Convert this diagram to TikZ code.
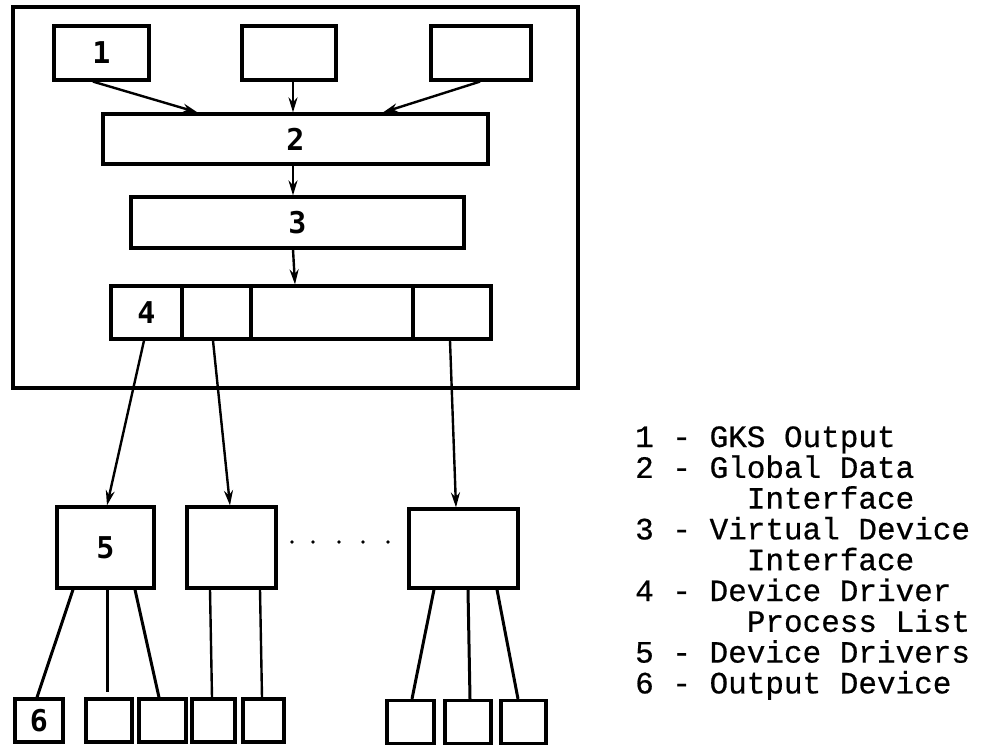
\documentclass[tikz,border=0pt]{standalone}
\usepackage{fontspec}
\newfontfamily\keyfont{Liberation Mono}[FakeBold=0.6]
\newfontfamily\numfont{DejaVu Sans Mono}
\usetikzlibrary{arrows.meta}

\begin{document}
\begin{tikzpicture}[x=1pt,y=-1pt,
  box/.style={draw, rectangle, line width=3.2pt, inner sep=0pt},
  link/.style={line width=2.4pt},
  feed/.style={line width=3pt},
  flow/.style={link, -{Stealth[length=15pt,width=9pt]}},
  num/.style={font=\numfont\bfseries\fontsize{30}{30}\selectfont},
  legend/.style={anchor=base west, inner sep=0pt, font=\keyfont\fontsize{31}{31}\selectfont}]

\useasboundingbox (0,0) rectangle (986,747);

% enclosing frame
\node[box, line width=3.4pt, minimum width=565pt, minimum height=381pt] (frame) at (295.5,197.5) {};

% GKS output boxes
\node[box, minimum width=95pt,  minimum height=54pt] (b1) at (101.5,53) {};
\node[num] at (b1.center) {1};
\node[box, minimum width=94pt,  minimum height=54pt] (bm) at (289,53) {};
\node[box, minimum width=100pt, minimum height=54pt] (br) at (481,53) {};

% global data interface
\node[box, minimum width=385pt, minimum height=50pt] (b2) at (295.5,139) {};
\node[num] at (b2.center) {2};

% virtual device interface
\node[box, minimum width=333pt, minimum height=51pt] (b3) at (297.5,222.5) {};
\node[num] at (b3.center) {3};

% device driver process list
\node[box, minimum width=71pt,  minimum height=53pt] (p4a) at (146.5,312.5) {};
\node[num] at (p4a.center) {4};
\node[box, minimum width=69pt,  minimum height=53pt] (p4b) at (216.5,312.5) {};
\node[box, minimum width=162pt, minimum height=53pt] (p4c) at (332,312.5) {};
\node[box, minimum width=78pt,  minimum height=53pt] (p4d) at (452,312.5) {};

% device drivers
\node[box, minimum width=97pt,  minimum height=81pt] (d5) at (105.5,547.5) {};
\node[num] at (d5.center) {5};
\node[box, minimum width=89pt,  minimum height=81pt] (dB) at (231.5,547.5) {};
\node[box, minimum width=109pt, minimum height=79pt] (dC) at (463.5,548.5) {};

% output devices
\node[box, minimum width=48pt, minimum height=43pt] (o6) at (39,720.5) {};
\node[num] at (o6.center) {6};
\node[box, minimum width=46pt, minimum height=43pt] (ob) at (109,720.5) {};
\node[box, minimum width=47pt, minimum height=43pt] (oc) at (162.5,720.5) {};
\node[box, minimum width=43pt, minimum height=43pt] (od) at (213.5,720.5) {};
\node[box, minimum width=41pt, minimum height=43pt] (oe) at (263.5,720.5) {};
\node[box, minimum width=47pt, minimum height=43pt] (of) at (410.5,722) {};
\node[box, minimum width=46pt, minimum height=43pt] (og) at (468,722) {};
\node[box, minimum width=45pt, minimum height=43pt] (oh) at (523.5,722) {};

% arrows inside the frame
\draw[flow] ([xshift=-8.5pt]b1.south) -- ([xshift=-98pt]b2.north);
\draw[flow] ([xshift=4pt]bm.south) -- ([xshift=-2.5pt]b2.north);
\draw[flow] ([xshift=-1pt]br.south) -- ([xshift=87.5pt]b2.north);
\draw[flow] ([xshift=-2.5pt]b2.south) -- ([xshift=-4.5pt]b3.north);
\draw[flow] ([xshift=-4.5pt]b3.south) -- ([xshift=-37pt]p4c.north);

% process list to drivers
\draw[flow] ([xshift=-2.5pt]p4a.south) -- ([xshift=1.5pt]d5.north);
\draw[flow] ([xshift=-3.5pt]p4b.south) -- ([xshift=-1.5pt]dB.north);
\draw[flow] ([xshift=-2pt]p4d.south) -- ([xshift=-7.5pt]dC.north);

% drivers to output devices
\coordinate (obend) at (107,692);
\draw[feed] ([xshift=-32.5pt]d5.south) -- ([xshift=-2pt]o6.north);
\draw[feed] ([xshift=1.5pt]d5.south) -- (obend);
\draw[feed] ([xshift=29.5pt]d5.south) -- ([xshift=-3.5pt]oc.north);
\draw[link] ([xshift=-21.5pt]dB.south) -- ([xshift=-1.5pt]od.north);
\draw[link] ([xshift=28.5pt]dB.south) -- ([xshift=-1.5pt]oe.north);
\draw[feed] ([xshift=-29.5pt]dC.south) -- ([xshift=1.5pt]of.north);
\draw[feed] ([xshift=4.5pt]dC.south) -- ([xshift=2pt]og.north);
\draw[feed] ([xshift=33.5pt]dC.south) -- ([xshift=-5.5pt]oh.north);

% dotted gap between drivers
\foreach \dx in {292,313,339,363,388}
  \fill (\dx,542) circle (1.8pt);

% key
\node[legend] (k1) at (635,447)   {1 - GKS Output};
\node[legend] (k2) at (635,477.8) {2 - Global Data};
\node[legend] (k3) at (635,508.6) {\ \ \ \ \ \ Interface};
\node[legend] (k4) at (635,539.4) {3 - Virtual Device};
\node[legend] (k5) at (635,570.2) {\ \ \ \ \ \ Interface};
\node[legend] (k6) at (635,601)   {4 - Device Driver};
\node[legend] (k7) at (635,631.8) {\ \ \ \ \ \ Process List};
\node[legend] (k8) at (635,662.6) {5 - Device Drivers};
\node[legend] (k9) at (635,693.4) {6 - Output Device};
\end{tikzpicture}
\end{document}
